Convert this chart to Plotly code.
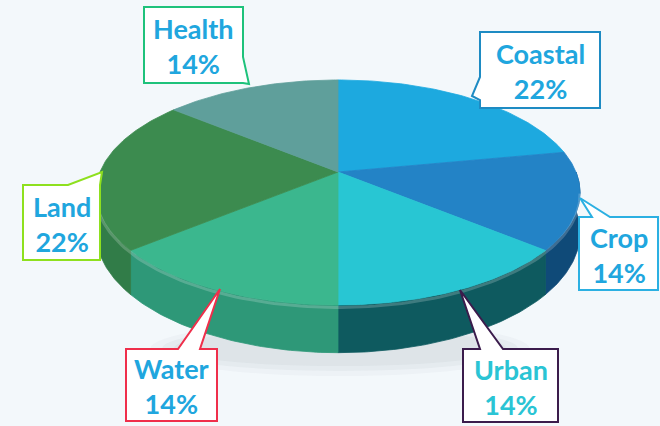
import numpy as np
import plotly.graph_objects as go

# ---- data ----
categories = ["Coastal", "Crop", "Urban", "Water", "Land", "Health"]
shares = [22, 14, 14, 14, 22, 14]
top_colors = ["#1DA9DF", "#2383C6", "#28C6D3", "#3BB78E", "#3C8B4F", "#5F9F9B"]
side_colors = ["#137AA8", "#0F4A78", "#0E5A5F", "#2E9878", "#317C48", "#4A7F7C"]
text_colors = ["#20A6DE", "#20A6DE", "#2AC4D4", "#20A6DE", "#20A6DE", "#20A6DE"]
border_colors = ["#1E8BC3", "#2BB0E2", "#3B1C4C", "#EF2F4B", "#8EE01E", "#1EC27B"]

# ---- geometry (pixel space) ----
W, H = 660, 426
cx, cy = 338, 172          # projected pie centre
sx, sy, persp = 238, 108.8, 0.182
depth = 39

# callout layout: box (x0, y0, x1, y1), edge, base (a, b), tip (x, y)
callouts = {
    "Coastal": dict(box=(480, 32, 600, 108), edge="left", base=(77, 100), tip=(472, 96)),
    "Crop": dict(box=(579, 217, 658, 290), edge="top", base=(592, 610), tip=(580, 198)),
    "Urban": dict(box=(463, 349, 558, 422), edge="top", base=(480, 503), tip=(460, 290)),
    "Water": dict(box=(126, 349, 217, 421), edge="top", base=(178, 200), tip=(220, 289)),
    "Land": dict(box=(23, 185, 100, 260), edge="top", base=(68, 100), tip=(102, 172)),
    "Health": dict(box=(144, 7, 243, 83), edge="right", base=(57, 83), tip=(249, 84)),
}


def pt(theta, drop=0.0):
    t = np.radians(theta)
    X, Z = np.sin(t), np.cos(t)
    w = 1 + persp * Z
    return cx + sx * X / w, cy - sy * Z / w + drop / w


fig = go.Figure()

total = sum(shares)
bounds = []
acc = 0.0
for s in shares:
    a0 = acc / total * 360
    acc += s
    a1 = acc / total * 360
    bounds.append((a0, a1))

# sides (front half)
for (a0, a1), col in zip(bounds, side_colors):
    lo, hi = max(a0, 90), min(a1, 270)
    if hi <= lo:
        continue
    th = np.linspace(lo, hi, 60)
    xs_top, ys_top = pt(th)
    xs_bot, ys_bot = pt(th[::-1], depth)
    xs = np.concatenate([xs_top, xs_bot, xs_top[:1]])
    ys = np.concatenate([ys_top, ys_bot, ys_top[:1]])
    fig.add_trace(go.Scatter(x=xs, y=ys, mode="lines", fill="toself", fillcolor=col,
                             line=dict(color=col, width=0.8), hoverinfo="skip", showlegend=False))

# top faces
for (a0, a1), col in zip(bounds, top_colors):
    th = np.linspace(a0, a1, 80)
    xa, ya = pt(th)
    xs = np.concatenate([[cx], xa, [cx]])
    ys = np.concatenate([[cy], ya, [cy]])
    fig.add_trace(go.Scatter(x=xs, y=ys, mode="lines", fill="toself", fillcolor=col,
                             line=dict(color=col, width=0.8), hoverinfo="skip", showlegend=False))

# subtle rim highlight on front top edge
th = np.linspace(100, 260, 120)
xr, yr = pt(th, 2)
fig.add_trace(go.Scatter(x=xr, y=yr, mode="lines", line=dict(color="rgba(255,255,255,0.2)", width=3),
                         hoverinfo="skip", showlegend=False))

shapes = []
# soft shadow under the pie
for k, op in [(0, 0.03), (1, 0.04), (2, 0.04)]:
    shapes.append(dict(type="circle", xref="x", yref="y", layer="below",
                       x0=150 + k * 12, x1=530 - k * 12,
                       y0=322 + k * 4, y1=376 - k * 5,
                       fillcolor=f"rgba(60,70,80,{op})", line=dict(width=0)))

annotations = []
for cat, s, tc, bc in zip(categories, shares, text_colors, border_colors):
    c = callouts[cat]
    x0, y0, x1, y1 = c["box"]
    a, b = c["base"]
    tx, ty = c["tip"]
    if c["edge"] == "top":
        path = f"M{x0},{y0} L{a},{y0} L{tx},{ty} L{b},{y0} L{x1},{y0} L{x1},{y1} L{x0},{y1} Z"
    elif c["edge"] == "left":
        path = f"M{x0},{y0} L{x1},{y0} L{x1},{y1} L{x0},{y1} L{x0},{b} L{tx},{ty} L{x0},{a} Z"
    else:  # right
        path = f"M{x0},{y0} L{x1},{y0} L{x1},{a} L{tx},{ty} L{x1},{b} L{x1},{y1} L{x0},{y1} Z"
    shapes.append(dict(type="path", xref="x", yref="y", path=path, fillcolor="white",
                       line=dict(color=bc, width=2), layer="above"))
    annotations.append(dict(x=(x0 + x1) / 2, y=(y0 + y1) / 2 + 1, xref="x", yref="y",
                            text=f"<b>{cat}</b><br><b>{s}%</b>", showarrow=False,
                            font=dict(family="Lato, Open Sans, sans-serif", size=27, color=tc),
                            xanchor="center", yanchor="middle", align="center"))

fig.update_layout(
    width=W, height=H,
    margin=dict(l=0, r=0, t=0, b=0),
    paper_bgcolor="#F3F8FB", plot_bgcolor="#F3F8FB",
    xaxis=dict(range=[0, W], visible=False, fixedrange=True),
    yaxis=dict(range=[H, 0], visible=False, fixedrange=True),
    shapes=shapes, annotations=annotations, showlegend=False,
)

fig.write_html("out.html", post_script="document.body.style.margin='0px';",
               config={"displayModeBar": False})
